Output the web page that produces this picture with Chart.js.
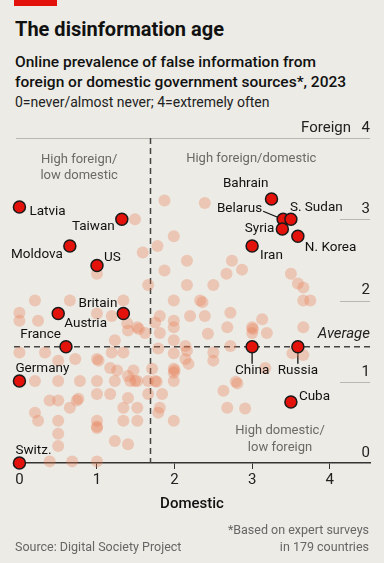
<!DOCTYPE html>
<html>
<head>
<meta charset="utf-8">
<script src="https://cdn.jsdelivr.net/npm/chart.js@4.4.1/dist/chart.umd.min.js"></script>
<style>
  html, body { margin: 0; padding: 0; background: #ecebe5; }
  body { width: 384px; height: 563px; position: relative; overflow: hidden; font-family: Roboto, "Liberation Sans", sans-serif; color: #111; }
  .bar { position: absolute; left: 14px; top: 0; width: 43px; height: 6px; background: #e3120b; }
  .title { position: absolute; left: 15px; top: 17px; font-size: 20px; line-height: 24px; font-weight: 700; }
  .sub { position: absolute; left: 15px; top: 52px; font-size: 15.5px; line-height: 20px; font-weight: 500; }
  .note { position: absolute; left: 15px; top: 92px; font-size: 14px; line-height: 20px; color: #222; }
  .wrap { position: absolute; left: 0; top: 0; width: 384px; height: 563px; }
  .src { position: absolute; left: 15px; top: 538px; font-size: 12.5px; line-height: 18px; color: #666; }
  .foot { position: absolute; right: 15px; top: 521px; font-size: 12.5px; line-height: 17px; color: #666; text-align: right; }
</style>
</head>
<body>
<div class="bar"></div>
<div class="title">The disinformation age</div>
<div class="sub">Online prevalence of false information from<br>foreign or domestic government sources*, 2023</div>
<div class="note">0=never/almost never; 4=extremely often</div>
<div class="wrap"><canvas id="chart"></canvas></div>
<div class="src">Source: Digital Society Project</div>
<div class="foot">*Based on expert surveys<br>in 179 countries</div>

<script>
// highlighted countries
const countries = ['Latvia', 'Taiwan', 'Moldova', 'US', 'Bahrain', 'Belarus', 'S. Sudan', 'Syria', 'N. Korea',
    'Iran', 'Britain', 'Austria', 'France', 'Germany', 'Switz.', 'China', 'Russia', 'Cuba'];
const domestic = [0, 1.32, 0.65, 1.0, 3.25, 3.4, 3.5, 3.39, 3.59, 3.0, 1.34, 0.5, 0.6, 0, 0, 3.0, 3.59, 3.5];
const foreign = [3.15, 3.0, 2.67, 2.43, 3.25, 3.0, 3.0, 2.88, 2.79, 2.67, 1.84, 1.84, 1.43, 1.01, 0, 1.43, 1.43, 0.75];

// all the other countries
const otherDomestic = [1.87, 2.39, 1.49, 1.99, 1.78, 1.59, 2.16, 1.87, 1.0, 1.66, 2.16, 2.74, 2.67, 2.87, 2.5, 3.5,
    3.59, 3.66, 3.66, 3.75, 3.13, 3.01, 3.19, 3.66, 3.52, 3.66, 2.33, 2.36, 2.2, 2.39, 2.72, 2.43, 2.68, 3.0, 3.0,
    2.72, 2.16, 2.5, 2.5, 2.18, 3.17, 2.81, 2.79, 2.63, 2.68, 2.91, 1.99, 1.81, 1.75, 1.99, 1.99, 1.52, 1.54, 1.62,
    1.81, 1.99, 2.14, 1.79, 1.99, 2.14, 1.99, 2.0, 1.71, 1.52, 1.66, 1.75, 1.77, 1.99, 1.99, 1.66, 1.84, 1.81, 1.79,
    1.52, 1.52, 1.99, 0.2, 0.65, 1.34, 0, 0, 0.24, 1.0, 1.19, 1.39, 1.4, 1.23, 0, 0.33, 0.5, 0.72, 1.0, 1.02, 1.19,
    1.34, 1.17, 1.26, 1.47, 1.4, 0.2, 0.5, 0.78, 1.0, 1.23, 1.43, 1.49, 1.0, 1.17, 1.4, 0.39, 0.5, 0.74, 0.76, 0.65,
    1.34, 0.2, 0.24, 0.5, 1.0, 1.0, 1.0, 1.34, 0.5, 0.5, 1.23, 1.4, 0.39, 0.68, 1.0];
const otherForeign = [3.23, 3.2, 3.0, 2.79, 2.67, 2.59, 2.49, 2.37, 2.33, 2.19, 2.19, 2.49, 2.33, 2.38, 2.19, 2.33,
    2.21, 2.16, 2.0, 2.0, 1.77, 1.65, 1.6, 1.67, 1.35, 1.33, 2.0, 1.98, 1.81, 1.81, 1.85, 1.59, 1.67, 1.67, 1.6,
    1.44, 1.38, 1.36, 1.26, 1.22, 1.17, 0.98, 1.0, 0.89, 0.68, 0.67, 2.0, 1.81, 1.73, 1.75, 1.67, 1.67, 1.65, 1.6,
    1.6, 1.51, 1.44, 1.41, 1.35, 1.28, 1.16, 1.14, 1.16, 1.01, 1.01, 1.01, 1.0, 1.11, 1.01, 0.85, 0.85, 0.68, 0.62,
    0.68, 0.52, 0.52, 2.0, 2.0, 2.0, 1.85, 1.75, 1.75, 1.84, 1.81, 1.72, 1.63, 1.51, 1.36, 1.36, 1.26, 1.28, 1.28,
    1.26, 1.36, 1.36, 1.17, 1.14, 1.14, 1.07, 1.01, 1.01, 1.01, 1.01, 1.01, 1.01, 1.01, 0.85, 0.85, 0.8, 0.77, 0.77,
    0.77, 0.79, 0.68, 0.68, 0.62, 0.52, 0.52, 0.52, 0.43, 0.45, 0.52, 0.36, 0.21, 0.27, 0.23, 0.02, 0.02, 0.02];

const avgDomestic = 1.69;
const avgForeign = 1.43;
const xTicks = [0, 1, 2, 3, 4];
const yTicks = [0, 1, 2, 3, 4];

// where each country name sits, relative to its dot (px)
const labelPos = {
    'Latvia': [10, 5, 'left'], 'Taiwan': [-7, 7, 'right'], 'Moldova': [-7, 9, 'right'], 'US': [7, -8, 'left'],
    'Bahrain': [-3, -15, 'right'], 'Belarus': [-21, -11, 'right'], 'S. Sudan': [-1, -12, 'left'],
    'Syria': [-8, 0, 'right'], 'N. Korea': [7, 11, 'left'], 'Iran': [8, 10, 'left'], 'Britain': [-6, -10, 'right'],
    'Austria': [6, 10, 'left'], 'France': [-5, -12, 'right'], 'Germany': [-4, -12, 'left'],
    'Switz.': [-4, -12, 'left'], 'China': [0, 24, 'center'], 'Russia': [0, 24, 'center'], 'Cuba': [8, -5, 'left']
};

const FONT = 'Roboto, "Liberation Sans", sans-serif';

const decor = {
    id: 'decor',
    beforeDatasetsDraw(chart) {
        const { ctx, chartArea: a, scales: { x, y } } = chart;
        ctx.save();
        // gridlines: full at 4, short stubs at right for 1-3
        ctx.strokeStyle = '#b9b8b0';
        ctx.lineWidth = 1;
        yTicks.forEach(v => {
            if (v === 0) return;
            const py = Math.round(y.getPixelForValue(v)) + 0.5;
            ctx.beginPath();
            ctx.moveTo(v === 4 ? a.left + 2 : a.right - 30, py);
            ctx.lineTo(a.right, py);
            ctx.stroke();
        });
        // averages
        ctx.strokeStyle = '#444';
        ctx.lineWidth = 1.5;
        ctx.setLineDash([6, 4]);
        const ax = x.getPixelForValue(avgDomestic), ay = y.getPixelForValue(avgForeign);
        ctx.beginPath();
        ctx.moveTo(ax, y.getPixelForValue(4));
        ctx.lineTo(ax, a.bottom);
        ctx.moveTo(a.left, ay);
        ctx.lineTo(a.right, ay);
        ctx.stroke();
        ctx.setLineDash([]);
        // leader lines
        ctx.strokeStyle = '#111';
        ctx.lineWidth = 1.3;
        countries.forEach((c, i) => {
            const px = x.getPixelForValue(domestic[i]), py = y.getPixelForValue(foreign[i]);
            if (c === 'China' || c === 'Russia') {
                ctx.beginPath(); ctx.moveTo(px, py); ctx.lineTo(px, py + 17); ctx.stroke();
            }
            if (c === 'Belarus') {
                ctx.beginPath(); ctx.moveTo(px - 20, py - 8); ctx.lineTo(px - 3, py - 1); ctx.stroke();
            }
        });
        ctx.restore();
    },
    afterDraw(chart) {
        const { ctx, chartArea: a, scales: { x, y } } = chart;
        ctx.save();
        ctx.textBaseline = 'middle';
        // y tick labels, above the gridlines
        ctx.fillStyle = '#222';
        ctx.font = '15px ' + FONT;
        ctx.textAlign = 'right';
        yTicks.forEach(v => ctx.fillText(String(v), a.right, y.getPixelForValue(v) - 10));
        ctx.fillText('Foreign', a.right - 19, y.getPixelForValue(4) - 10);
        ctx.font = 'italic 15px ' + FONT;
        ctx.fillText('Average', a.right, y.getPixelForValue(avgForeign) - 13);

        // quadrant notes
        ctx.fillStyle = '#6a6a66';
        ctx.font = '13px ' + FONT;
        ctx.textAlign = 'center';
        ctx.fillText('High foreign/', x.getPixelForValue(0.77), y.getPixelForValue(3.73));
        ctx.fillText('low domestic', x.getPixelForValue(0.77), y.getPixelForValue(3.53));
        ctx.fillText('High domestic/', x.getPixelForValue(3.36), y.getPixelForValue(0.4));
        ctx.fillText('low foreign', x.getPixelForValue(3.36), y.getPixelForValue(0.19));
        ctx.textAlign = 'left';
        ctx.fillText('High foreign/domestic', x.getPixelForValue(2.15), y.getPixelForValue(3.75));

        // country names
        ctx.fillStyle = '#111';
        ctx.font = '13.5px ' + FONT;
        countries.forEach((c, i) => {
            const [dx, dy, align] = labelPos[c];
            ctx.textAlign = align;
            ctx.fillText(c, x.getPixelForValue(domestic[i]) + dx, y.getPixelForValue(foreign[i]) + dy);
        });
        ctx.restore();
    }
};

new Chart(document.getElementById('chart'), {
    type: 'scatter',
    data: {
        datasets: [{
            label: 'Highlighted',
            data: countries.map((c, i) => ({ x: domestic[i], y: foreign[i] })),
            backgroundColor: '#e3120b',
            borderColor: '#1a1a1a',
            borderWidth: 1.5,
            pointRadius: 6,
            clip: false
        }, {
            label: 'Other countries',
            data: otherDomestic.map((d, i) => ({ x: d, y: otherForeign[i] })),
            backgroundColor: 'rgba(232, 122, 80, 0.32)',
            borderWidth: 0,
            pointRadius: 6,
            clip: false
        }]
    },
    options: {
        responsive: true,
        maintainAspectRatio: false,
        animation: false,
        layout: { padding: { top: 138, left: 14, right: 14, bottom: 50 } },
        plugins: { legend: { display: false }, tooltip: { enabled: false } },
        scales: {
            x: {
                type: 'linear',
                min: -0.07,
                max: 4.52,
                afterBuildTicks: s => { s.ticks = xTicks.map(v => ({ value: v })); },
                grid: { drawOnChartArea: false, drawTicks: true, tickLength: 6, color: '#333' },
                border: { color: '#333', width: 1.5 },
                ticks: { color: '#222', font: { family: FONT, size: 15 }, padding: 2 },
                title: { display: true, text: 'Domestic', color: '#111', font: { family: FONT, size: 15, weight: '500' }, padding: { top: 4, bottom: 0 } }
            },
            y: { type: 'linear', min: 0, max: 4, display: false }
        }
    },
    plugins: [decor]
});
</script>
</body>
</html>
